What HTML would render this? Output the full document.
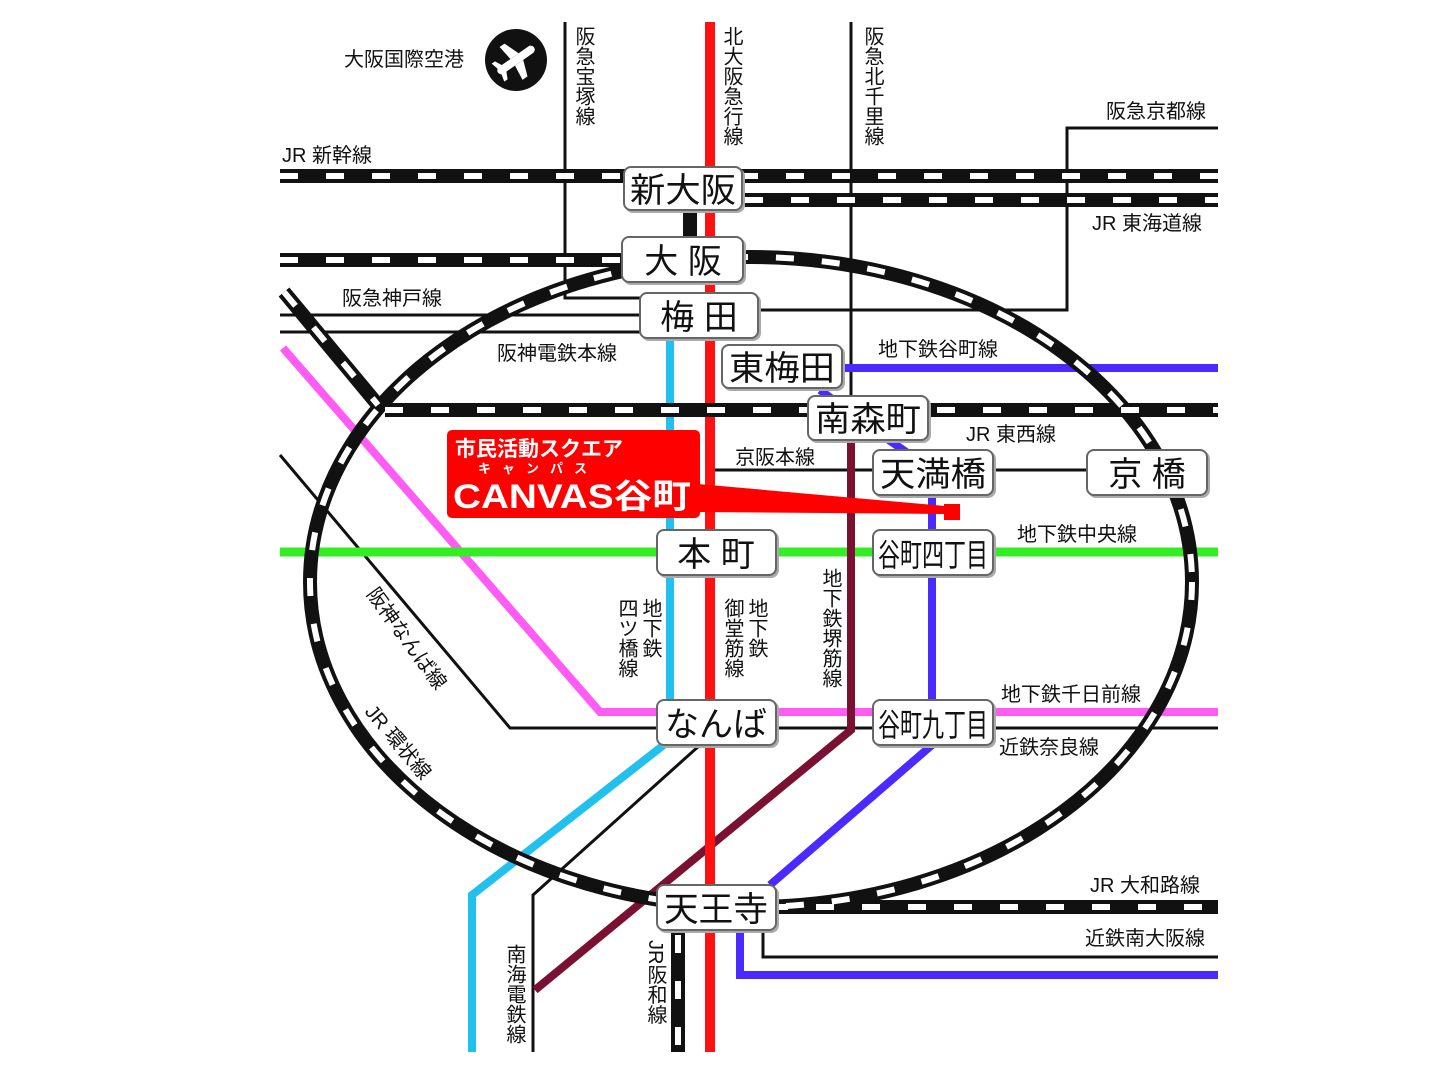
<!DOCTYPE html>
<html><head><meta charset="utf-8"><style>
body{margin:0;background:#fff;}
svg{display:block}
text{font-family:"Liberation Sans","Noto Sans CJK JP",sans-serif;fill:#111}
.lb{font-size:20px}
.st{font-size:34px;text-anchor:middle}
</style></head><body>
<svg width="1440" height="1078" viewBox="0 0 1440 1078">
<!-- thin black lines -->
<g fill="none" stroke="#111" stroke-width="3">
<polyline points="565,22 565,298 645,298"/>
<polyline points="851,22 851,410"/>
<polyline points="1218,128 1067,128 1067,310 760,310"/>
<line x1="280" y1="315" x2="642" y2="315"/>
<line x1="280" y1="332" x2="642" y2="332"/>
<line x1="715" y1="470" x2="1210" y2="470"/>
<polyline points="280,455 510,728 1218,728"/>
<polyline points="533,1052 533,895 700,745"/>
<polyline points="763,928 763,957 1218,957"/>
</g>
<!-- colored lines -->
<g fill="none" stroke-linejoin="miter">
<polyline points="283,348 600,712 1218,712" stroke="#ff5cf5" stroke-width="8"/>
<line x1="280" y1="552" x2="1218" y2="552" stroke="#33ee22" stroke-width="9"/>
<polyline points="670,335 670,740 472,895 472,1052" stroke="#22c0ef" stroke-width="8"/>
<polyline points="851,440 851,730 535,990" stroke="#7a1032" stroke-width="8"/>
<polyline points="845,368 1218,368" stroke="#4b2aff" stroke-width="8"/>
<polyline points="820,390 860,420 932,470 932,745 770,885" stroke="#4b2aff" stroke-width="8"/>
<polyline points="740,928 740,975 1218,975" stroke="#4b2aff" stroke-width="8"/>
<line x1="710" y1="22" x2="710" y2="1052" stroke="#ff1111" stroke-width="10"/>
</g>
<!-- JR lines -->
<g fill="none">
<g stroke="#111" stroke-width="14">
<line x1="280" y1="176" x2="1218" y2="176"/>
<line x1="745" y1="200" x2="1218" y2="200"/>
<line x1="280" y1="260" x2="625" y2="260"/>
<line x1="385" y1="410" x2="1218" y2="410"/>
<line x1="770" y1="907" x2="1218" y2="907"/>
<line x1="678" y1="930" x2="678" y2="1052"/>
<line x1="284" y1="292" x2="378" y2="405"/>
<line x1="690" y1="205" x2="690" y2="240"/>
<ellipse cx="751" cy="582" rx="441" ry="325"/>
</g>
<g stroke="#fff" stroke-width="6" stroke-dasharray="18 28">
<line x1="280" y1="176" x2="1218" y2="176"/>
<line x1="745" y1="200" x2="1218" y2="200"/>
<line x1="280" y1="260" x2="625" y2="260"/>
<line x1="385" y1="410" x2="1218" y2="410"/>
<line x1="770" y1="907" x2="1218" y2="907"/>
<line x1="678" y1="935" x2="678" y2="1052"/>
<line x1="284" y1="292" x2="378" y2="405"/>
<ellipse cx="751" cy="582" rx="441" ry="325"/>
</g>
</g>
<!-- red label -->
<rect x="447" y="430" width="253" height="88" rx="5" fill="#ff0000"/>
<polygon points="698,484 945,506 945,514 698,512" fill="#ff0000"/>
<rect x="944" y="504" width="16" height="16" fill="#ff0000"/>
<text x="455" y="456" style="font-size:21px;font-weight:bold;fill:#fff">市民活動スクエア</text>
<text x="478" y="473" style="font-size:13px;font-weight:bold;fill:#fff;letter-spacing:11px">キャンパス</text>
<text x="453" y="508" textLength="238" lengthAdjust="spacingAndGlyphs" style="font-size:34px;font-weight:bold;fill:#fff">CANVAS谷町</text>
<!-- airport -->
<circle cx="516" cy="60" r="31" fill="#111"/>
<g transform="translate(516,60) rotate(-35)" fill="#fff">
<rect x="-22" y="-4" width="44" height="8" rx="4"/>
<polygon points="-4,-4 6,-4 0,-20 -6,-20"/>
<polygon points="-4,4 6,4 0,20 -6,20"/>
<polygon points="-20,-3 -14,-3 -18,-11 -22,-11"/>
<polygon points="-20,3 -14,3 -18,11 -22,11"/>
</g>
<text x="344" y="66" class="lb">大阪国際空港</text>
<!-- stations -->
<g fill="#fff" stroke="#666" stroke-width="2" style="filter:drop-shadow(2px 2px 0 #aaa)">
<rect x="624" y="167" width="118" height="43" rx="7"/>
<rect x="622" y="237" width="121" height="45" rx="7"/>
<rect x="640" y="293" width="118" height="45" rx="7"/>
<rect x="722" y="345" width="120" height="43" rx="7"/>
<rect x="808" y="396" width="120" height="44" rx="7"/>
<rect x="873" y="450" width="120" height="45" rx="7"/>
<rect x="1087" y="450" width="120" height="45" rx="7"/>
<rect x="657" y="530" width="119" height="45" rx="7"/>
<rect x="873" y="530" width="120" height="45" rx="7"/>
<rect x="657" y="700" width="119" height="45" rx="7"/>
<rect x="873" y="700" width="120" height="45" rx="7"/>
<rect x="657" y="885" width="119" height="45" rx="7"/>
</g>
<text x="683" y="202" class="st" textLength="106" lengthAdjust="spacingAndGlyphs">新大阪</text>
<text x="683" y="273" class="st">大 阪</text>
<text x="699" y="329" class="st">梅 田</text>
<text x="782" y="380" class="st" textLength="106" lengthAdjust="spacingAndGlyphs">東梅田</text>
<text x="868" y="431" class="st" textLength="106" lengthAdjust="spacingAndGlyphs">南森町</text>
<text x="933" y="486" class="st" textLength="106" lengthAdjust="spacingAndGlyphs">天満橋</text>
<text x="1147" y="486" class="st">京 橋</text>
<text x="716" y="566" class="st">本 町</text>
<text x="933" y="566" class="st" style="font-size:32px" textLength="110" lengthAdjust="spacingAndGlyphs">谷町四丁目</text>
<text x="716" y="736" class="st">なんば</text>
<text x="933" y="736" class="st" style="font-size:32px" textLength="110" lengthAdjust="spacingAndGlyphs">谷町九丁目</text>
<text x="716" y="921" class="st" textLength="104" lengthAdjust="spacingAndGlyphs">天王寺</text>
<!-- labels -->
<text x="282" y="162" class="lb">JR 新幹線</text>
<text x="1106" y="118" class="lb">阪急京都線</text>
<text x="1092" y="230" class="lb">JR 東海道線</text>
<text x="342" y="305" class="lb">阪急神戸線</text>
<text x="497" y="360" class="lb">阪神電鉄本線</text>
<text x="878" y="356" class="lb">地下鉄谷町線</text>
<text x="966" y="441" class="lb">JR 東西線</text>
<text x="735" y="464" class="lb">京阪本線</text>
<text x="1017" y="541" class="lb">地下鉄中央線</text>
<text x="1001" y="701" class="lb">地下鉄千日前線</text>
<text x="999" y="754" class="lb">近鉄奈良線</text>
<text x="1090" y="892" class="lb">JR 大和路線</text>
<text x="1085" y="945" class="lb">近鉄南大阪線</text>
<text x="583" y="26" class="lb" style="writing-mode:tb">阪急宝塚線</text>
<text x="731" y="26" class="lb" style="writing-mode:tb">北大阪急行線</text>
<text x="872" y="26" class="lb" style="writing-mode:tb">阪急北千里線</text>
<text x="650" y="598" class="lb" style="writing-mode:tb">地下鉄</text>
<text x="626" y="598" class="lb" style="writing-mode:tb">四ツ橋線</text>
<text x="756" y="598" class="lb" style="writing-mode:tb">地下鉄</text>
<text x="732" y="598" class="lb" style="writing-mode:tb">御堂筋線</text>
<text x="830" y="568" class="lb" style="writing-mode:tb">地下鉄堺筋線</text>
<text x="514" y="944" class="lb" style="writing-mode:tb">南海電鉄線</text>
<text x="655" y="940" class="lb" style="writing-mode:tb">JR阪和線</text>
<text x="0" y="0" class="lb" transform="translate(366,594) rotate(54)">阪神なんば線</text>
<text x="0" y="0" class="lb" transform="translate(364,712) rotate(50)">JR 環状線</text>
</svg>
</body></html>
